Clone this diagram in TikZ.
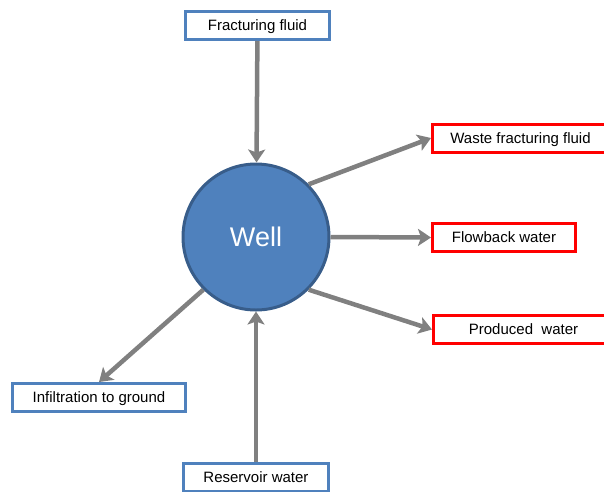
\documentclass[tikz,border=0pt]{standalone}
\usepackage{fontspec}
\setmainfont{Liberation Sans}
\usetikzlibrary{arrows.meta}
\definecolor{boxblue}{HTML}{4F81BD}
\definecolor{welledge}{HTML}{385D8A}
\definecolor{flowgray}{HTML}{808080}
\begin{document}
\begin{tikzpicture}[x=1pt, y=-1pt,
	box/.style={line width=3pt, fill=white, inner sep=0pt, minimum height=28pt, text height=10.5pt, text depth=0pt, font=\fontsize{15}{17}\selectfont},
	inbox/.style={box, draw=boxblue},
	outbox/.style={box, draw=red},
	flow/.style={draw=flowgray, line width=4.5pt, -{Stealth[width=17pt, length=13pt, inset=3pt]}}]
		\useasboundingbox (0,0) rectangle (604,491);
		\clip (0,0) rectangle (604,491);
		\node[circle, draw=welledge, fill=boxblue, line width=3pt, minimum size=146pt, text=white, font=\fontsize{27}{30}\selectfont] at (256,237) (Well) {Well};
		\node[inbox, minimum width=144pt] at (257.5,25.5) (Frac) {Fracturing fluid};
		\node[outbox, minimum width=176pt] at (520.5,138) (Waste) {Waste fracturing fluid};
		\node[outbox, minimum width=143pt] at (504,237.5) (Flowback) {Flowback water};
		\node[outbox, minimum width=180pt] at (523.5,329.5) (Produced) {Produced\ \ water};
		\node[inbox, minimum width=173pt] at (99,397.5) (Infil) {Infiltration to ground};
		\node[inbox, minimum width=145pt] at (256,477.5) (Reservoir) {Reservoir water};
		
		\draw[flow] (Frac) -- (Well);
		\draw[flow] (Reservoir) -- (Well);
		\draw[flow] (Well.45) -- (Waste.west);
		\draw[flow] (Well.east) -- (Flowback.west);
		\draw[flow] (Well.-45) -- (Produced.west);
		\draw[flow] (Well.225) -- (Infil.north);
\end{tikzpicture}
\end{document}
